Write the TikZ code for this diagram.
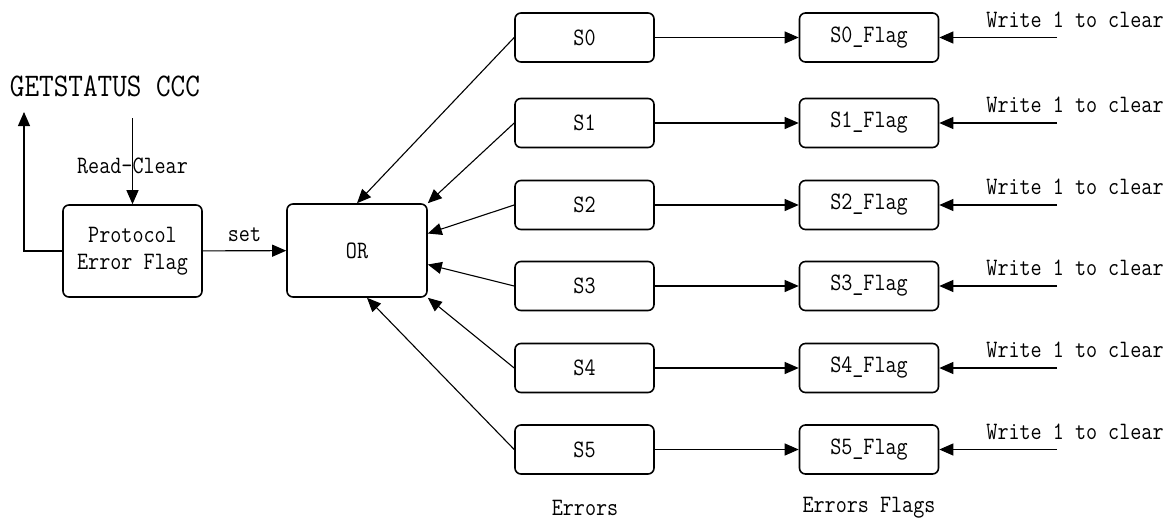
\documentclass[tikz,border=0pt]{standalone}
\usepackage{fontspec}
\setmainfont[FakeStretch=0.86]{Latin Modern Mono}
\usetikzlibrary{arrows.meta}
\begin{document}
\begin{tikzpicture}[x=1pt,y=-1pt,
  box/.style={draw,line width=1.6pt,rounded corners=6pt,minimum width=139pt,minimum height=49pt,inner sep=0pt,font=\fontsize{25}{27}\selectfont},
  lbl/.style={inner sep=0pt,font=\fontsize{25}{27}\selectfont},
  conn/.style={line width=1.1pt,-{Triangle[length=14pt,width=12pt]}}]
\useasboundingbox (0,0) rectangle (1174,520);
\node[box,minimum height=92pt,align=center] (pef) at (132.5,251) {Protocol\\Error Flag};
\node[box,minimum width=140pt,minimum height=93pt] (or) at (357,250.5) {OR};
\foreach \i/\y in {0/37.5,1/123,2/205,3/286,4/368,5/449.5}{
  \node[box] (s\i) at (584.5,\y) {S\i};
  \node[box] (f\i) at (869,\y) {S\i\_Flag};
  \coordinate (w\i) at (1057,\y);
  \node[lbl] (t\i) at (1075,\y-18) {Write 1 to clear};
  \draw[conn] (s\i) -- (f\i);
  \draw[conn] (w\i) -- (f\i.east);
}
\draw[conn] (s0.west) -- (or.north);
\draw[conn] (s1.west) -- (or.north east);
\draw[conn] (s2.west) -- ([yshift=17pt]or.east);
\draw[conn] (s3.west) -- ([yshift=-14pt]or.east);
\draw[conn] (s4.west) -- (or.south east);
\draw[conn] (s5.west) -- ([xshift=10pt]or.south);
\draw[conn] (pef) -- node[lbl,above=9pt] (set) {set} (or);
\node[lbl,font=\fontsize{33}{35}\selectfont] (gs) at (105,86) {GETSTATUS CCC};
\coordinate (up) at (24,112);
\draw[conn] (pef.west) -| (up);
\coordinate (rc) at (132.5,118);
\node[lbl] (rcl) at (132.5,166) {Read-Clear};
\draw[conn] (rc) -- (pef.north);
\node[lbl] (err) at (585,508) {Errors};
\node[lbl] (errf) at (869,508) {Errors Flags};
\end{tikzpicture}
\end{document}
